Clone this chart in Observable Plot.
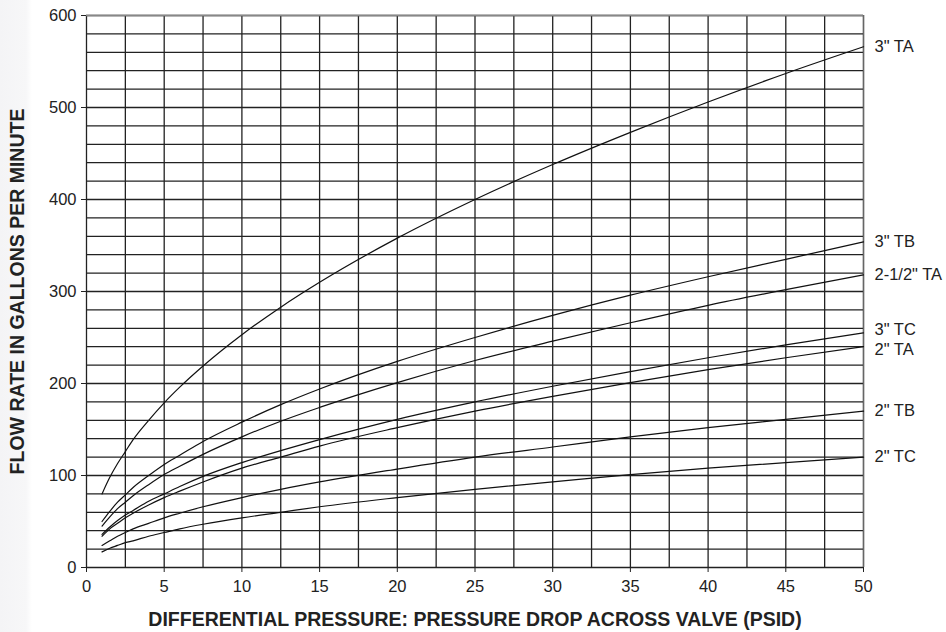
<!DOCTYPE html>
<html>
<head>
<meta charset="utf-8">
<script src="https://cdn.jsdelivr.net/npm/d3@7"></script>
<script src="https://cdn.jsdelivr.net/npm/@observablehq/plot@0.6"></script>
<style>
  html, body { margin: 0; padding: 0; background: #fff; }
  body { width: 946px; height: 632px; overflow: hidden; position: relative;
         background: linear-gradient(to right, #f4f4f6 0px, #f7f7f8 26px, #ffffff 32px); }
  #chart svg { display: block; }
</style>
</head>
<body>
<div id="chart"></div>
<script>
const pressures = [1, 1.5, 2, 2.5, 3, 4, 5, 6, 7.5, 10, 12.5, 15, 20, 25, 30, 35, 40, 45, 50];
const seriesNames = ['3" TA', '3" TB', '2-1/2" TA', '3" TC', '2" TA', '2" TB', '2" TC'];
const flow3TA  = [80, 98, 113, 126, 139, 160, 179, 196, 219, 253, 283, 310, 358, 400, 438, 473, 506, 537, 566];
const flow3TB  = [50, 61, 71, 79, 87, 100, 112, 122, 137, 158, 177, 194, 224, 250, 274, 296, 316, 335, 354];
const flow25TA = [45, 55, 64, 71, 78, 90, 101, 110, 123, 142, 159, 174, 201, 225, 246, 266, 285, 302, 318];
const flow3TC  = [36, 44, 51, 57, 62, 72, 80, 88, 99, 114, 127, 139, 161, 180, 197, 213, 228, 242, 255];
const flow2TA  = [34, 42, 48, 54, 59, 68, 76, 83, 93, 108, 120, 132, 152, 170, 186, 201, 215, 228, 240];
const flow2TB  = [24, 29, 34, 38, 42, 48, 54, 59, 66, 76, 85, 93, 107, 120, 131, 142, 152, 161, 170];
const flow2TC  = [17, 21, 24, 27, 29, 34, 38, 42, 47, 54, 60, 66, 76, 85, 93, 101, 108, 114, 120];
const labelY   = [566, 354, 318, 258.5, 236.5, 170, 120];
const xTicks = [0, 5, 10, 15, 20, 25, 30, 35, 40, 45, 50];
const yTicks = [0, 100, 200, 300, 400, 500, 600];

const seriesValues = [flow3TA, flow3TB, flow25TA, flow3TC, flow2TA, flow2TB, flow2TC];
const rows = [];
seriesNames.forEach((name, i) => {
  pressures.forEach((p, j) => rows.push({series: name, x: p, y: seriesValues[i][j]}));
});
const ends = seriesNames.map((name, i) => ({series: name, x: 50, y: labelY[i]}));

const gridX = d3.range(0, 50.01, 2.5);
const gridY = d3.range(0, 600.01, 20);

const chart = Plot.plot({
  width: 946,
  height: 632,
  marginLeft: 86,
  marginRight: 83,
  marginTop: 15,
  marginBottom: 65,
  style: {fontFamily: "Liberation Sans, Arial, sans-serif", fontSize: "16.5px", color: "#222", background: "transparent"},
  x: {domain: [0, 50]},
  y: {domain: [0, 600]},
  marks: [
    Plot.ruleX(gridX, {stroke: "#222", strokeWidth: 1.3, strokeOpacity: 1}),
    Plot.ruleY(gridY, {stroke: "#222", strokeWidth: 1.3, strokeOpacity: 1}),
    Plot.ruleY([600], {stroke: "#888", strokeWidth: 1.3}),
    Plot.ruleX([50], {stroke: "#666", strokeWidth: 1.3}),
    Plot.axisX({ticks: xTicks, tickSize: 5, tickPadding: 8, stroke: "#222", fill: "#222", fontSize: 16.5,
                label: "DIFFERENTIAL PRESSURE: PRESSURE DROP ACROSS VALVE (PSID)", labelAnchor: "center", labelArrow: "none", labelOffset: 58}),
    Plot.axisY({ticks: yTicks, tickSize: 5, tickPadding: 5, stroke: "#222", fill: "#222", fontSize: 16.5,
                label: "FLOW RATE IN GALLONS PER MINUTE", labelAnchor: "center", labelArrow: "none", labelOffset: 76}),
    Plot.line(rows, {x: "x", y: "y", z: "series", stroke: "#111", strokeWidth: 1.2, curve: "monotone-x"}),
    Plot.text(ends, {x: "x", y: "y", text: "series", dx: 11, textAnchor: "start", fill: "#222", fontSize: 16.5})
  ]
});

chart.querySelectorAll('[aria-label="x-axis label"] text, [aria-label="y-axis label"] text').forEach(t => {
  t.setAttribute("font-weight", "bold");
  t.setAttribute("font-size", "19.5");
  t.style.fontWeight = "bold";
  t.style.fontSize = "19.5px";
});
document.getElementById("chart").appendChild(chart);
</script>
</body>
</html>
